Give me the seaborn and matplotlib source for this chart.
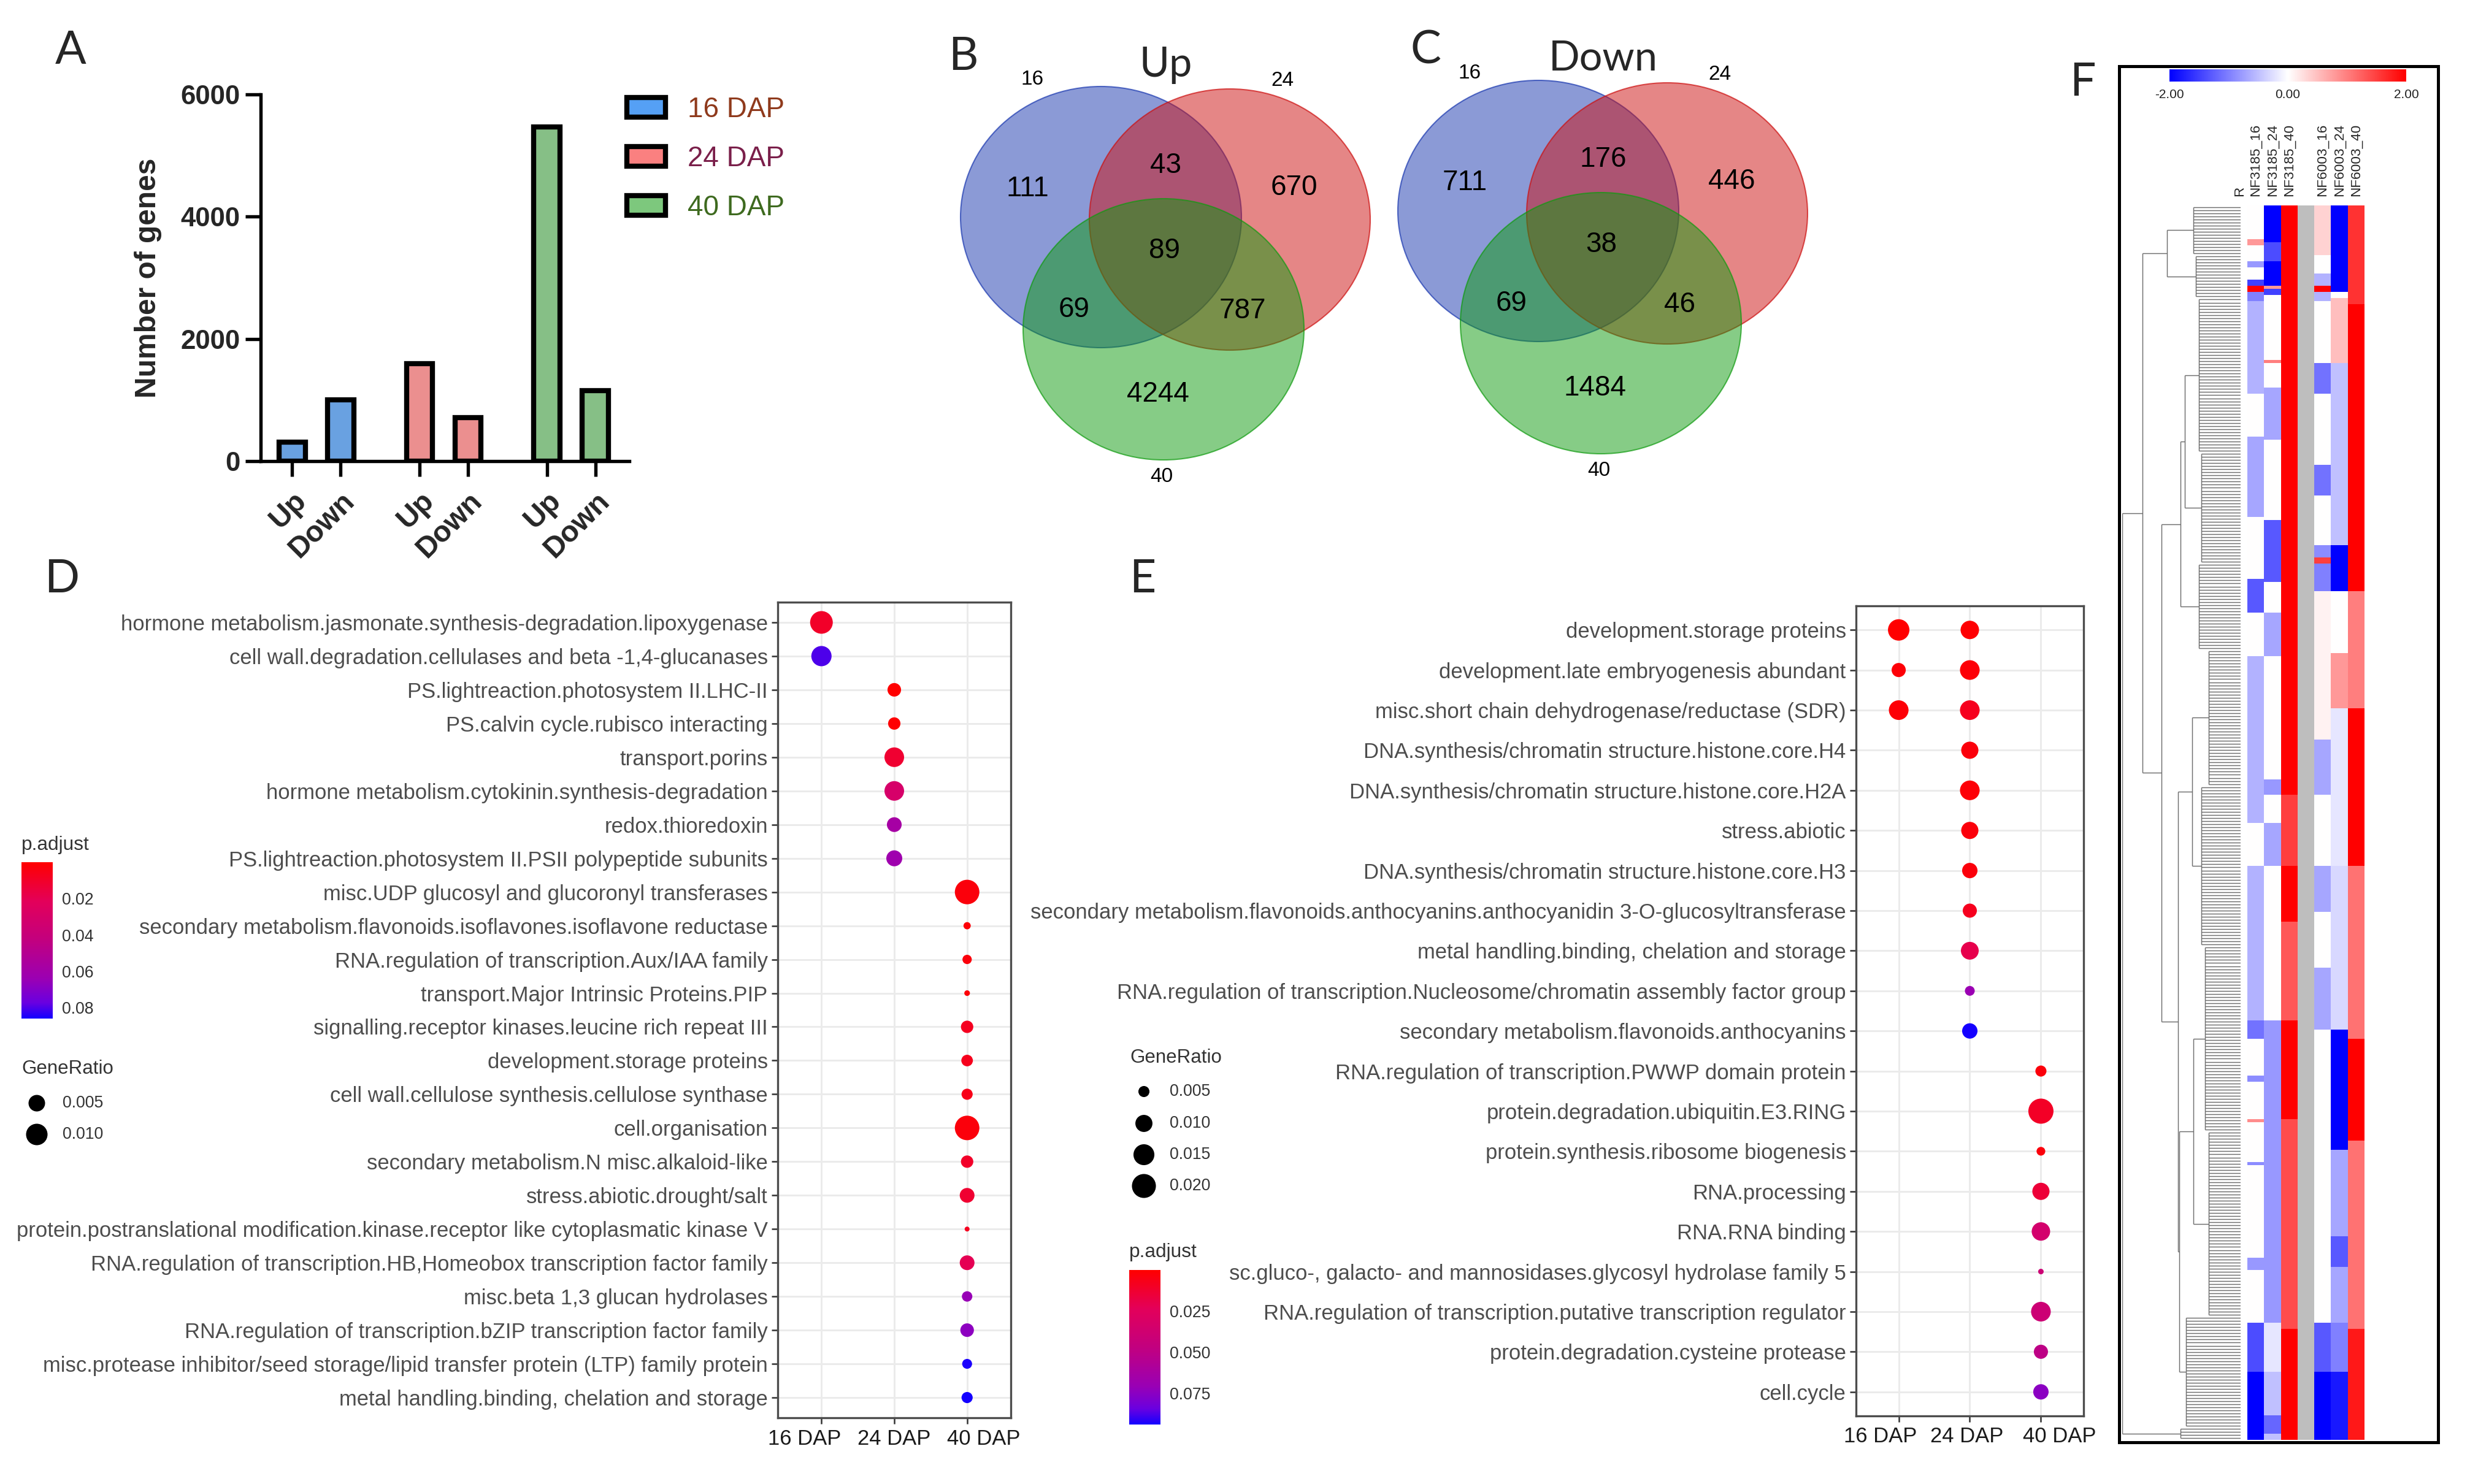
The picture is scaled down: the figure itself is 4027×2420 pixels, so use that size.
import numpy as np
import pandas as pd
import matplotlib
matplotlib.use("Agg")
import matplotlib.pyplot as plt
import seaborn as sns
from matplotlib.colors import LinearSegmentedColormap, Normalize
from matplotlib.patches import Ellipse, Patch, Rectangle
from matplotlib.cm import ScalarMappable
from matplotlib.collections import LineCollection
from matplotlib.transforms import ScaledTranslation

# --- image geometry (pixels of the final png) ---
W, H = 4028, 2420
DPI = 300

# --- A: number of DEGs per stage ---
STAGES = ["16 DAP", "24 DAP", "40 DAP"]
DIRECTIONS = ["Up", "Down"]
DEG_UP = [310, 1600, 5470]
DEG_DOWN = [1000, 710, 1150]
STAGE_COLORS = ["#55A0F5", "#FA8080", "#7DC87D"]
STAGE_TEXT_COLORS = ["#8F3A1C", "#7A1F4A", "#3E6A1F"]

# --- B / C: Venn counts
# regions: 16 only, 16&24, 24 only, 16&24&40, 16&40, 24&40, 40 only
VENN_SETS = ["16", "24", "40"]
VENN_UP = [111, 43, 670, 89, 69, 787, 4244]
VENN_DOWN = [711, 176, 446, 38, 69, 46, 1484]

# --- D: enrichment of up-regulated genes ---
D_TERMS = [
    "hormone metabolism.jasmonate.synthesis-degradation.lipoxygenase",
    "cell wall.degradation.cellulases and beta -1,4-glucanases",
    "PS.lightreaction.photosystem II.LHC-II",
    "PS.calvin cycle.rubisco interacting",
    "transport.porins",
    "hormone metabolism.cytokinin.synthesis-degradation",
    "redox.thioredoxin",
    "PS.lightreaction.photosystem II.PSII polypeptide subunits",
    "misc.UDP glucosyl and glucoronyl transferases",
    "secondary metabolism.flavonoids.isoflavones.isoflavone reductase",
    "RNA.regulation of transcription.Aux/IAA family",
    "transport.Major Intrinsic Proteins.PIP",
    "signalling.receptor kinases.leucine rich repeat III",
    "development.storage proteins",
    "cell wall.cellulose synthesis.cellulose synthase",
    "cell.organisation",
    "secondary metabolism.N misc.alkaloid-like",
    "stress.abiotic.drought/salt",
    "protein.postranslational modification.kinase.receptor like cytoplasmatic kinase V",
    "RNA.regulation of transcription.HB,Homeobox transcription factor family",
    "misc.beta 1,3 glucan hydrolases",
    "RNA.regulation of transcription.bZIP transcription factor family",
    "misc.protease inhibitor/seed storage/lipid transfer protein (LTP) family protein",
    "metal handling.binding, chelation and storage",
]
D_STAGE = ["16 DAP"] * 2 + ["24 DAP"] * 6 + ["40 DAP"] * 16
D_GENERATIO = [0.0115, 0.0086, 0.0028, 0.0021, 0.0079, 0.0079, 0.0036, 0.0045,
               0.0140, 0.0003, 0.0008, 0.00012, 0.0021, 0.0017, 0.0015, 0.0140,
               0.0021, 0.0036, 0.0001, 0.0036, 0.0012, 0.0028, 0.0010, 0.0015]
D_PADJ = [0.010, 0.080, 0.0001, 0.001, 0.012, 0.030, 0.058, 0.062,
          0.003, 0.002, 0.003, 0.002, 0.008, 0.007, 0.006, 0.003,
          0.010, 0.012, 0.008, 0.020, 0.065, 0.068, 0.085, 0.086]

# --- E: enrichment of down-regulated genes ---
E_TERMS = [
    "development.storage proteins",
    "development.late embryogenesis abundant",
    "misc.short chain dehydrogenase/reductase (SDR)",
    "DNA.synthesis/chromatin structure.histone.core.H4",
    "DNA.synthesis/chromatin structure.histone.core.H2A",
    "stress.abiotic",
    "DNA.synthesis/chromatin structure.histone.core.H3",
    "secondary metabolism.flavonoids.anthocyanins.anthocyanidin 3-O-glucosyltransferase",
    "metal handling.binding, chelation and storage",
    "RNA.regulation of transcription.Nucleosome/chromatin assembly factor group",
    "secondary metabolism.flavonoids.anthocyanins",
    "RNA.regulation of transcription.PWWP domain protein",
    "protein.degradation.ubiquitin.E3.RING",
    "protein.synthesis.ribosome biogenesis",
    "RNA.processing",
    "RNA.RNA binding",
    "sc.gluco-, galacto- and mannosidases.glycosyl hydrolase family 5",
    "RNA.regulation of transcription.putative transcription regulator",
    "protein.degradation.cysteine protease",
    "cell.cycle",
]
E_TERM_INDEX = [0, 0, 1, 1, 2, 2] + list(range(3, 20))
E_STAGE = ["16 DAP", "24 DAP"] * 3 + ["24 DAP"] * 8 + ["40 DAP"] * 9
E_GENERATIO = [0.0158, 0.0116, 0.0071, 0.0132, 0.0132, 0.0132, 0.0101, 0.0132,
               0.0101, 0.0082, 0.0071, 0.0108, 0.0044, 0.0082, 0.0050, 0.0222,
               0.0040, 0.0101, 0.0116, 0.0035, 0.0132, 0.0071, 0.0082]
E_PADJ = [0.0001, 0.001, 0.002, 0.002, 0.002, 0.008, 0.003, 0.002,
          0.003, 0.003, 0.008, 0.020, 0.070, 0.0942, 0.003, 0.010,
          0.003, 0.015, 0.035, 0.040, 0.040, 0.050, 0.075]

# --- F: heatmap, blocks of rows read top->bottom as (end fraction, z-score) ---
HM_N_ROWS = 400
NF3185_16 = [(0.028, 0.0), (0.032, 0.8), (0.045, 0.0), (0.050, -0.8), (0.060, 0.0), (0.066, -1.5),
             (0.070, 2.0), (0.077, -1.0), (0.153, -0.6), (0.188, 0.0), (0.252, -0.7), (0.303, 0.0),
             (0.331, -1.3), (0.366, 0.0), (0.500, -0.6), (0.535, 0.0), (0.659, -0.6), (0.675, -1.1),
             (0.705, 0.0), (0.709, -0.9), (0.740, 0.0), (0.743, 0.9), (0.774, 0.0), (0.777, -0.9),
             (0.852, 0.0), (0.862, -0.8), (0.904, 0.0), (0.944, -1.4), (1.000, -2.0)]
NF3185_24 = [(0.030, -2.0), (0.046, -1.4), (0.064, -2.0), (0.068, 0.8), (0.072, -1.5), (0.077, 0.0),
             (0.124, 0.0), (0.127, 1.0), (0.147, 0.0), (0.191, -0.7), (0.255, 0.0), (0.306, -1.3),
             (0.331, 0.0), (0.366, -0.7), (0.465, 0.0), (0.478, -0.8), (0.500, 0.0), (0.535, -0.7),
             (0.659, 0.0), (0.675, -0.8), (0.904, -0.8), (0.944, -0.2), (0.980, -0.5), (0.995, -1.2),
             (1.000, -0.5)]
NF3185_40 = [(0.478, 2.0), (0.535, 1.5), (0.580, 2.0), (0.660, 1.3), (0.740, 2.0), (0.910, 1.4),
             (1.000, 2.0)]
NF6003_16 = [(0.039, 0.35), (0.055, 0.0), (0.066, -0.6), (0.070, 2.0), (0.077, -0.6), (0.128, 0.0),
             (0.153, -1.1), (0.210, 0.0), (0.236, -1.1), (0.274, 0.0), (0.285, -0.9), (0.290, 1.5),
             (0.312, -1.0), (0.433, 0.1), (0.478, -0.7), (0.535, 0.0), (0.573, -0.7), (0.618, 0.0),
             (0.668, -0.7), (0.904, 0.0), (0.944, -1.3), (1.000, -2.0)]
NF6003_24 = [(0.070, -2.0), (0.075, 0.0), (0.128, 0.5), (0.274, -0.5), (0.312, -2.0), (0.363, 0.0),
             (0.408, 0.8), (0.535, -0.2), (0.668, -0.3), (0.764, -2.0), (0.834, -0.7), (0.859, -1.3),
             (0.904, -0.7), (0.944, -1.0), (1.000, -1.8)]
NF6003_40 = [(0.080, 1.6), (0.312, 2.0), (0.408, 1.0), (0.535, 2.0), (0.675, 1.1), (0.757, 2.0),
             (0.910, 1.1), (1.000, 1.8)]
HM_LABELS = ["NF3185_16", "NF3185_24", "NF3185_40", "", "NF6003_16", "NF6003_24", "NF6003_40"]

# dendrogram: node = (height, [children]); leaf cluster = (height, first row frac, last row frac)
DENDRO = (1.00, [
    (0.83, [
        (0.62, [(0.40, 0.000, 0.040), (0.38, 0.040, 0.075)]),
        (0.67, [
            (0.51, [(0.47, [(0.35, 0.075, 0.200), (0.33, 0.200, 0.290)]), (0.35, 0.290, 0.360)]),
            (0.53, [
                (0.41, [(0.27, 0.360, 0.470), (0.33, 0.470, 0.600)]),
                (0.52, [(0.40, [(0.30, 0.600, 0.750), (0.27, 0.750, 0.900)]), (0.46, 0.900, 0.990)]),
            ]),
        ]),
    ]),
    (0.51, 0.990, 1.000),
])


def px_rect(x0, y0, x1, y1):
    """pixel box with top-left origin -> figure fraction rect"""
    return [x0 / W, 1 - y1 / H, (x1 - x0) / W, (y1 - y0) / H]


def px2pt(d):
    return d * 72 / DPI


def dot_area(v, lims, dpx):
    # ggplot-like size scale: diameter grows with sqrt of the rescaled value
    r = np.clip((np.asarray(v, float) - lims[0]) / (lims[1] - lims[0]), 0, 1)
    d = dpx[0] + (dpx[1] - dpx[0]) * np.sqrt(r)
    return px2pt(d) ** 2


def expand_blocks(blocks, n):
    ends = np.array([e for e, _ in blocks])
    vals = np.array([v for _, v in blocks])
    centers = (np.arange(n) + 0.5) / n
    return vals[np.minimum(np.searchsorted(ends, centers), len(vals) - 1)]


sns.set_style("ticks")
plt.rcParams["font.family"] = ["Liberation Sans", "DejaVu Sans"]

PADJ_CMAP = LinearSegmentedColormap.from_list(
    "padj", [(0, "#FF0000"), (0.25, "#E3005A"), (0.5, "#C2007F"), (0.75, "#9A00B4"),
             (0.9, "#6A00E0"), (1, "#1400FF")])
HM_CMAP = LinearSegmentedColormap.from_list("hm", ["#0000FF", "#FFFFFF", "#FF0000"])
LEG_TXT = "#333333"

fig = plt.figure(figsize=(W / DPI, H / DPI), dpi=DPI)
over = fig.add_axes([0, 0, 1, 1])
over.set_xlim(0, W)
over.set_ylim(H, 0)
over.axis("off")

# ---------------- A ----------------
GROUP_STEP = 2.63
rows = []
for gi, st in enumerate(STAGES):
    for di, vals in enumerate([DEG_UP, DEG_DOWN]):
        rows.append({"stage": st, "direction": DIRECTIONS[di],
                     "pos": gi * GROUP_STEP + di, "genes": vals[gi]})
bars = pd.DataFrame(rows)

axA = fig.add_axes(px_rect(425, 154, 1026, 752))
sns.barplot(data=bars, x="pos", y="genes", hue="stage", palette=STAGE_COLORS, native_scale=True,
            dodge=False, width=0.54, edgecolor="black", linewidth=2.0, errorbar=None,
            legend=False, ax=axA)
axA.set_xlim(-0.65, 2 * GROUP_STEP + 1.7)
axA.set_ylim(0, 6000)
axA.set_yticks([0, 2000, 4000, 6000])
axA.set_xticks(bars["pos"])
axA.set_xticklabels(bars["direction"], rotation=45, ha="right", rotation_mode="anchor")
axA.set_xlabel("")
axA.set_ylabel("Number of genes", fontsize=11.5, fontweight="bold")
axA.yaxis.set_label_coords(-0.268, 0.5)
sns.despine(ax=axA)
for s in ["left", "bottom"]:
    axA.spines[s].set_linewidth(1.3)
    axA.spines[s].set_color("black")
axA.tick_params(axis="both", length=6, width=1.3, color="black", labelsize=10.5)
axA.tick_params(axis="x", labelsize=11.5, pad=4)
axA.tick_params(axis="y", pad=2)
for lab in axA.get_xticklabels() + axA.get_yticklabels():
    lab.set_fontweight("bold")

handles = [Patch(facecolor=c, edgecolor="black", linewidth=2.0) for c in STAGE_COLORS]
leg = axA.legend(handles, STAGES, loc="upper left", bbox_to_anchor=(1022 / W, 1 - 157 / H),
                 bbox_transform=fig.transFigure, frameon=False, fontsize=11, handlelength=1.37,
                 handleheight=0.7, handletextpad=0.8, labelspacing=0.79, borderpad=0,
                 borderaxespad=0)
for t, c in zip(leg.get_texts(), STAGE_TEXT_COLORS):
    t.set_color(c)

# ---------------- B / C ----------------
VENN_COLORS = ["#1937AF", "#CD0F0F", "#0F9B0F"]
CIRCLE_OFFSETS = [(0, 0), (210, 4), (102, 183)]
REGION_OFFSETS = [(-120, -46), (106, -84), (315, -48), (103, 55), (-44, 151), (231, 153), (93, 289)]
SET_LABEL_OFFSETS = [(-112, -224), (296, -222), (99, 424)]


def draw_venn(cx, cy, counts, title):
    for (dx, dy), col in zip(CIRCLE_OFFSETS, VENN_COLORS):
        over.add_patch(Ellipse((cx + dx, cy + dy), 458, 426, facecolor=col, alpha=0.5,
                               edgecolor="none"))
        over.add_patch(Ellipse((cx + dx, cy + dy), 458, 426, facecolor="none", edgecolor=col,
                               lw=0.5, alpha=0.7))
    for (dx, dy), n in zip(REGION_OFFSETS, counts):
        over.text(cx + dx, cy + dy, str(n), fontsize=11, ha="center", va="center", color="black")
    for (dx, dy), lab in zip(SET_LABEL_OFFSETS, VENN_SETS):
        over.text(cx + dx, cy + dy, lab, fontsize=8, ha="center", va="center", color="black")
    over.text(cx + 106, cy - 248, title, fontsize=16, family="Lato", ha="center", va="center")


draw_venn(1795, 354, VENN_UP, "Up")
draw_venn(2508, 344, VENN_DOWN, "Down")


# ---------------- D / E ----------------
def dot_panel(rect, terms, stages, ratio, padj, dpx, label_shift_pt):
    df = pd.DataFrame({"term": terms, "stage": stages, "GeneRatio": ratio, "p.adjust": padj})
    ax = fig.add_axes(rect)
    lims = (df["GeneRatio"].min(), df["GeneRatio"].max())
    size_map = {v: float(dot_area(v, lims, dpx)) for v in df["GeneRatio"].unique()}
    norm = Normalize(0.0, df["p.adjust"].max())
    sns.scatterplot(data=df, x="stage", y="term", hue="p.adjust", palette=PADJ_CMAP,
                    hue_norm=norm, size="GeneRatio", sizes=size_map, linewidth=0,
                    legend=False, ax=ax, zorder=3)
    n = df["term"].nunique()
    ax.set_xlim(-0.6, 2.6)
    ax.set_ylim(n - 0.4, -0.6)
    ax.set_xlabel("")
    ax.set_ylabel("")
    ax.grid(True, color="#EBEBEB", lw=0.7)
    ax.set_axisbelow(True)
    for s in ax.spines.values():
        s.set_visible(True)
        s.set_color("#4D4D4D")
        s.set_linewidth(0.8)
    ax.tick_params(axis="y", length=2.4, width=0.6, color="#333333", labelsize=8.3,
                   labelcolor="#4D4D4D", pad=1.5)
    ax.tick_params(axis="x", length=2.4, width=0.6, color="#333333", labelsize=8.3,
                   labelcolor="#1A1A1A", pad=1.8)
    # the stage labels sit a little spread out in the original
    for lab, dx in zip(ax.get_xticklabels(), label_shift_pt):
        lab.set_transform(lab.get_transform() + ScaledTranslation(dx / 72, 0, fig.dpi_scale_trans))
    return ax, lims, norm


def padj_legend(norm, box, ticks, fmt, title_xy):
    cax = fig.add_axes(px_rect(*box))
    cb = fig.colorbar(ScalarMappable(norm=norm, cmap=PADJ_CMAP), cax=cax)
    cax.invert_yaxis()
    cb.outline.set_visible(False)
    cb.set_ticks(ticks)
    cb.set_ticklabels([fmt.format(t) for t in ticks])
    cax.tick_params(axis="y", direction="in", length=2.2, width=0.6, color="white",
                    left=True, right=True, labelsize=6.4, labelcolor=LEG_TXT, pad=3.5)
    over.text(title_xy[0], title_xy[1], "p.adjust", fontsize=7.6, color=LEG_TXT,
              ha="left", va="center")


def ratio_legend(lims, dpx, values, x, ys, title_xy, label_x):
    over.text(title_xy[0], title_xy[1], "GeneRatio", fontsize=7.5, color=LEG_TXT,
              ha="left", va="center")
    over.scatter([x] * len(values), ys, s=dot_area(values, lims, dpx), color="black",
                 linewidth=0)
    for v, y in zip(values, ys):
        over.text(label_x, y, f"{v:.3f}", fontsize=6.4, color=LEG_TXT, ha="left", va="center")


axD, limsD, normD = dot_panel(px_rect(1268, 982, 1648, 2312), D_TERMS, D_STAGE,
                              D_GENERATIO, D_PADJ, (8, 40), (-6.5, 0, 6.5))
padj_legend(normD, (35, 1406, 86, 1661), [0.02, 0.04, 0.06, 0.08], "{:.2f}", (35, 1378))
ratio_legend(limsD, (8, 40), [0.005, 0.010], 60, [1799, 1850], (35, 1743), 102)

e_terms = [E_TERMS[i] for i in E_TERM_INDEX]
axE, limsE, normE = dot_panel(px_rect(3026, 988, 3397, 2309), e_terms, E_STAGE,
                              E_GENERATIO, E_PADJ, (9, 41), (-7.2, -1.2, 7.2))
ratio_legend(limsE, (9, 41), [0.005, 0.010, 0.015, 0.020], 1865, [1780, 1832, 1883, 1934],
             (1842, 1725), 1907)
padj_legend(normE, (1841, 2071, 1892, 2323), [0.025, 0.050, 0.075], "{:.3f}", (1841, 2042))

# ---------------- F ----------------
hm = pd.DataFrame({
    "NF3185_16": expand_blocks(NF3185_16, HM_N_ROWS),
    "NF3185_24": expand_blocks(NF3185_24, HM_N_ROWS),
    "NF3185_40": expand_blocks(NF3185_40, HM_N_ROWS),
    "gap": np.full(HM_N_ROWS, np.nan),
    "NF6003_16": expand_blocks(NF6003_16, HM_N_ROWS),
    "NF6003_24": expand_blocks(NF6003_24, HM_N_ROWS),
    "NF6003_40": expand_blocks(NF6003_40, HM_N_ROWS),
})
axF = fig.add_axes(px_rect(3664, 335, 3855, 2348))
sns.heatmap(hm, cmap=HM_CMAP, vmin=-2, vmax=2, cbar=False, ax=axF, xticklabels=True,
            yticklabels=False)
axF.set_facecolor("#BEBEBE")
axF.xaxis.tick_top()
axF.set_xticks(np.arange(len(HM_LABELS)) + 0.5)
axF.set_xticklabels(HM_LABELS, rotation=90, fontsize=5.4, va="bottom", ha="center")
axF.tick_params(axis="x", length=0, pad=3.5, top=True, bottom=False)
axF.tick_params(axis="y", length=0, left=False)
axF.set_xlabel("")
axF.set_ylabel("")
over.text(3652, 320, "R", rotation=90, fontsize=5.4, ha="center", va="bottom")

# dendrogram
axDen = fig.add_axes(px_rect(3460, 335, 3653, 2348))
axDen.set_xlim(1.0, 0.0)
axDen.set_ylim(1.0, 0.0)
axDen.axis("off")
segs = []


def walk(node):
    if len(node) == 3:
        h, f0, f1 = node
        i0, i1 = int(round(f0 * HM_N_ROWS)), int(round(f1 * HM_N_ROWS))
        ys = (np.arange(i0, i1) + 0.5) / HM_N_ROWS
        for y in ys:
            segs.append([(h, y), (0.0, y)])
        segs.append([(h, ys[0]), (h, ys[-1])])
        return h, ys.mean()
    h, children = node
    pts = [walk(c) for c in children]
    for hc, yc in pts:
        segs.append([(h, yc), (hc, yc)])
    yvals = [p[1] for p in pts]
    segs.append([(h, min(yvals)), (h, max(yvals))])
    return h, float(np.mean(yvals))


walk(DENDRO)
axDen.add_collection(LineCollection(segs, colors="#6E6E6E", linewidths=0.35))

caxF = fig.add_axes(px_rect(3537, 113, 3923, 133))
cbF = fig.colorbar(ScalarMappable(norm=Normalize(-2, 2), cmap=HM_CMAP), cax=caxF,
                   orientation="horizontal")
cbF.outline.set_visible(False)
cbF.set_ticks([-2, 0, 2])
cbF.set_ticklabels(["-2.00", "0.00", "2.00"])
caxF.tick_params(length=0, labelsize=5, pad=3, labelcolor="#222222")
over.add_patch(Rectangle((3455, 108), 520, 2244, fill=False, lw=1.2, edgecolor="black"))

# panel letters
for letter, (x, y) in zip("ABCDEF", [(115, 83), (1570, 93), (2325, 82), (101, 945),
                                     (1863, 945), (3395, 134)]):
    over.text(x, y, letter, fontsize=18, family="Lato", ha="center", va="center")

fig.savefig("out.png", dpi=DPI)
